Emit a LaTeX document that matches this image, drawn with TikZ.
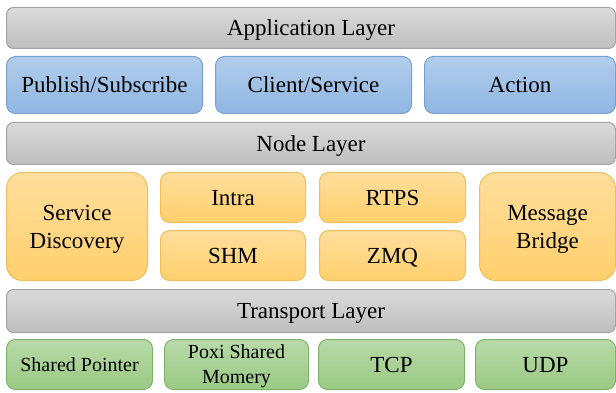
\documentclass[tikz,border=0pt]{standalone}
\usepackage{fontspec}
\setmainfont{Liberation Serif}
\usetikzlibrary{positioning}
\definecolor{graytop}{RGB}{218,218,218}
\definecolor{graybot}{RGB}{190,190,190}
\definecolor{grayline}{RGB}{165,165,165}
\definecolor{bluetop}{RGB}{178,205,236}
\definecolor{bluebot}{RGB}{143,182,226}
\definecolor{blueline}{RGB}{122,160,206}
\definecolor{orgtop}{RGB}{255,222,156}
\definecolor{orgbot}{RGB}{255,207,108}
\definecolor{orgline}{RGB}{238,192,92}
\definecolor{grntop}{RGB}{184,218,168}
\definecolor{grnbot}{RGB}{154,201,132}
\definecolor{grnline}{RGB}{128,178,108}

\begin{document}
\begin{tikzpicture}[x=1pt,y=-1pt,line width=1pt]
\tikzstyle{box} = [anchor=north west,inner sep=0pt,align=center,text depth=0pt,
  font=\fontsize{23}{28}\selectfont]
\tikzstyle{layer} = [box,draw=grayline,top color=graytop,bottom color=graybot,
  rounded corners=7pt,minimum width=609pt]
\tikzstyle{api} = [box,draw=blueline,top color=bluetop,bottom color=bluebot,
  rounded corners=9pt,minimum height=57pt]
\tikzstyle{mid} = [box,draw=orgline,top color=orgtop,bottom color=orgbot,
  rounded corners=9pt,minimum height=50pt]
\tikzstyle{big} = [mid,rounded corners=16pt,minimum height=108pt]
\tikzstyle{trans} = [box,draw=grnline,top color=grntop,bottom color=grnbot,
  rounded corners=9pt,minimum height=50pt,font=\fontsize{20}{25}\selectfont]
    \useasboundingbox (0,0) rectangle (616,393);

    % application
    \node[layer,minimum height=41pt] (app) at (6,7) {Application Layer};
    \node[api,minimum width=196pt] (pubsub) at (6,56) {Publish/Subscribe};
    \node[api,minimum width=196pt] (clisrv) at (215,56) {Client/Service};
    \node[api,minimum width=191pt] (action) at (424,56) {Action};

    % node
    \node[layer,minimum height=42pt] (nodel) at (6,122) {Node Layer};
    \node[big,minimum width=141pt] (discovery) at (6,172) {Service\\Discovery};
    \node[mid,minimum width=145pt] (intra) at (160,172) {Intra};
    \node[mid,minimum width=146pt] (rtps) at (319,172) {RTPS};
    \node[mid,minimum width=145pt] (shm) at (160,230) {SHM};
    \node[mid,minimum width=146pt] (zmq) at (319,230) {ZMQ};
    \node[big,minimum width=136pt] (bridge) at (479,172) {Message\\Bridge};

    % transport
    \node[layer,minimum height=43pt] (transl) at (6,289) {Transport Layer};
    \node[trans,minimum width=146pt] (shptr) at (6,339) {Shared Pointer};
    \node[trans,minimum width=144pt] (poxi) at (164,339) {Poxi Shared\\Momery};
    \node[trans,minimum width=146pt] (tcp) at (318,339) {\fontsize{23}{28}\selectfont TCP};
    \node[trans,minimum width=140pt] (udp) at (475,339) {\fontsize{23}{28}\selectfont UDP};
\end{tikzpicture}
\end{document}
